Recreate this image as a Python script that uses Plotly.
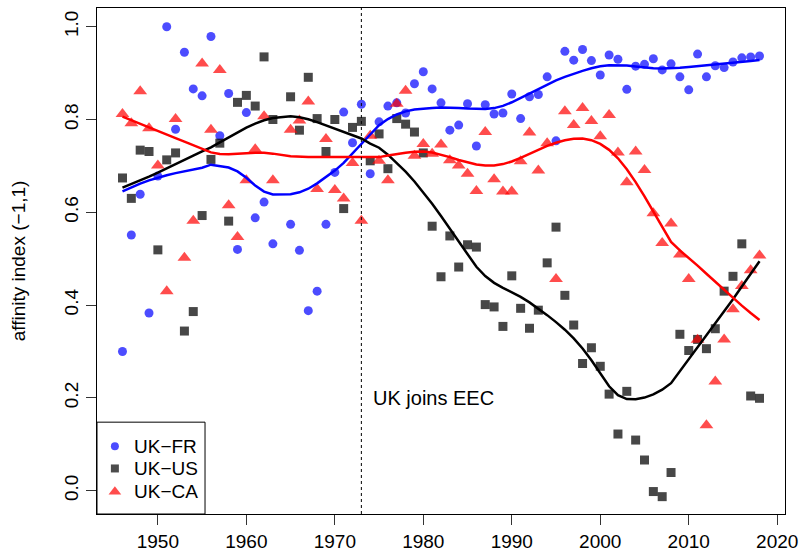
import numpy as np
import plotly.graph_objects as go

# ---- data (no 1964 values) ----
years = [1946, 1947, 1948, 1949, 1950, 1951, 1952, 1953, 1954, 1955, 1956, 1957, 1958, 1959,
         1960, 1961, 1962, 1963, 1965, 1966, 1967, 1968, 1969, 1970, 1971, 1972, 1973, 1974,
         1975, 1976, 1977, 1978, 1979, 1980, 1981, 1982, 1983, 1984, 1985, 1986, 1987, 1988,
         1989, 1990, 1991, 1992, 1993, 1994, 1995, 1996, 1997, 1998, 1999, 2000, 2001, 2002,
         2003, 2004, 2005, 2006, 2007, 2008, 2009, 2010, 2011, 2012, 2013, 2014, 2015, 2016,
         2017, 2018]

uk_fr = [0.300, 0.551, 0.639, 0.383, 0.678, 1.000, 0.779, 0.945, 0.866, 0.851, 0.979, 0.765,
         0.856, 0.520, 0.815, 0.588, 0.622, 0.532, 0.574, 0.518, 0.388, 0.430, 0.574, 0.686,
         0.816, 0.750, 0.833, 0.683, 0.795, 0.829, 0.836, 0.814, 0.877, 0.903, 0.866, 0.836,
         0.777, 0.788, 0.834, 0.743, 0.832, 0.812, 0.814, 0.855, 0.802, 0.849, 0.854, 0.892,
         0.754, 0.947, 0.928, 0.951, 0.927, 0.896, 0.939, 0.930, 0.865, 0.915, 0.919, 0.931,
         0.907, 0.920, 0.892, 0.864, 0.941, 0.892, 0.916, 0.912, 0.924, 0.933, 0.935, 0.937]

uk_us = [0.674, 0.630, 0.734, 0.731, 0.519, 0.713, 0.728, 0.344, 0.386, 0.593, 0.714, 0.749,
         0.581, 0.837, 0.852, 0.829, 0.935, 0.800, 0.849, 0.777, 0.891, 0.802, 0.731, 0.800,
         0.608, 0.783, 0.796, 0.711, 0.769, 0.694, 0.802, 0.790, 0.773, 0.728, 0.570, 0.461,
         0.549, 0.482, 0.530, 0.525, 0.401, 0.396, 0.354, 0.463, 0.393, 0.350, 0.389, 0.491,
         0.568, 0.421, 0.357, 0.274, 0.308, 0.268, 0.208, 0.122, 0.214, 0.109, 0.066, -0.002,
         -0.013, 0.039, 0.337, 0.302, 0.326, 0.306, 0.349, 0.430, 0.462, 0.532, 0.204, 0.199]

uk_ca = [0.812, 0.792, 0.861, 0.781, 0.701, 0.430, 0.801, 0.502, 0.582, 0.921, 0.778, 0.907,
         0.615, 0.547, 0.669, 0.736, 0.807, 0.669, 0.778, 0.798, 0.839, 0.650, 0.758, 0.648,
         0.630, 0.706, 0.582, 0.765, 0.711, 0.669, 0.834, 0.862, 0.722, 0.747, 0.726, 0.746,
         0.712, 0.701, 0.683, 0.646, 0.773, 0.671, 0.645, 0.645, 0.710, 0.772, 0.690, 0.749,
         0.456, 0.818, 0.788, 0.825, 0.797, 0.764, 0.810, 0.729, 0.665, 0.731, 0.691, 0.598,
         0.534, 0.576, 0.509, 0.456, 0.325, 0.141, 0.235, 0.326, 0.391, 0.441, 0.475, 0.507]

series_names = ["UK\u2212FR", "UK\u2212US", "UK\u2212CA"]
x_ticks = [1950, 1960, 1970, 1980, 1990, 2000, 2010, 2020]
y_ticks = [0.0, 0.2, 0.4, 0.6, 0.8, 1.0]
eec_year = 1973
eec_label = "UK joins EEC"
y_title = "affinity index (\u22121,1)"

# ---- robust locally-linear smoother (lowess-style), evaluated at the data years ----
SPAN, DEGREE, ITERS = 0.3, 1, 3


def _fit_at(x, y, x0, q, deg, rw):
    d = np.abs(x - x0)
    h = np.sort(d)[q - 1] * 1.0000001
    w = np.clip(1 - (d / h) ** 3, 0, None) ** 3 * rw
    X = np.vstack([(x - x0) ** k for k in range(deg + 1)]).T
    WX = X * w[:, None]
    return np.linalg.lstsq(WX.T @ X, WX.T @ y, rcond=None)[0][0]


def smooth(x, y, grid, span=SPAN, deg=DEGREE, iters=ITERS):
    x = np.asarray(x, float)
    y = np.asarray(y, float)
    n = len(x)
    q = int(np.floor(n * span))
    rw = np.ones(n)
    for _ in range(iters):
        fitted = np.array([_fit_at(x, y, xi, q, deg, rw) for xi in x])
        res = y - fitted
        s = np.median(np.abs(res))
        rw = np.clip(1 - (res / (6 * s)) ** 2, 0, None) ** 2
    return np.array([_fit_at(x, y, g, q, deg, rw) for g in grid])


grid = np.asarray(years, float)

styles = [
    dict(data=uk_fr, symbol="circle", size=9, color="rgba(0,0,255,0.7)", line="blue", lsize=8),
    dict(data=uk_us, symbol="square", size=9, color="rgba(0,0,0,0.72)", line="black", lsize=8),
    dict(data=uk_ca, symbol="triangle-up", size=12, color="rgba(255,0,0,0.7)", line="red", lsize=11),
]

fig = go.Figure()
for st in styles:
    fig.add_trace(go.Scatter(x=years, y=st["data"], mode="markers", showlegend=False,
                             marker=dict(symbol=st["symbol"], size=st["size"], color=st["color"],
                                         line=dict(width=0))))
for st in styles:
    fig.add_trace(go.Scatter(x=grid, y=smooth(years, st["data"], grid), mode="lines",
                             showlegend=False, line=dict(color=st["line"], width=2.5)))

fig.add_shape(type="line", x0=eec_year, x1=eec_year, y0=0, y1=1, xref="x", yref="paper",
              line=dict(color="black", width=1, dash="dot"))
fig.add_annotation(x=eec_year, y=0.2, text=eec_label, showarrow=False, xanchor="left",
                   yanchor="middle", xshift=10, font=dict(size=20, color="black"))

FS = 19

# ---- legend box (R-style, bottom-left corner of the plot) ----
leg_x1, leg_y1 = 0.157, 0.1815
leg_rows = [0.134, 0.090, 0.044]
leg_mark_x, leg_text_x = 0.026, 0.0515
fig.add_shape(type="rect", xref="paper", yref="paper", x0=0, y0=0, x1=leg_x1, y1=leg_y1,
              line=dict(color="black", width=1), fillcolor="white", layer="below")
fig.add_trace(go.Scatter(x=[leg_mark_x] * 3, y=leg_rows, xaxis="x2", yaxis="y2", mode="markers",
                         showlegend=False, hoverinfo="skip",
                         marker=dict(symbol=[s["symbol"] for s in styles],
                                     size=[s["lsize"] for s in styles],
                                     color=[s["line"] for s in styles], line=dict(width=0))))
for name, yy in zip(series_names, leg_rows):
    fig.add_annotation(xref="paper", yref="paper", x=leg_text_x, y=yy, text=name, showarrow=False,
                       xanchor="left", yanchor="middle", font=dict(size=FS, color="black"))

font = "Liberation Sans, Arial, sans-serif"
fig.update_layout(
    width=805, height=559,
    margin=dict(l=97, r=15, t=7, b=45),
    paper_bgcolor="white", plot_bgcolor="white",
    font=dict(family=font, size=FS, color="black"),
    showlegend=False,
    xaxis=dict(range=[1943.12, 2020.88], tickvals=x_ticks, showgrid=False, zeroline=False,
               showline=True, mirror=True, linecolor="black", linewidth=1,
               ticks="outside", ticklen=10, tickcolor="#333", tickfont=dict(size=FS)),
    yaxis=dict(range=[-0.0504, 1.0404], tickvals=y_ticks, ticktext=[f"{v:.1f}" for v in y_ticks],
               showgrid=False, zeroline=False, showline=True, mirror=True, linecolor="black",
               linewidth=1, ticks="outside", ticklen=10, tickcolor="#333", tickangle=-90,
               tickfont=dict(size=FS),
               title=dict(text=y_title, font=dict(size=FS), standoff=30)),
    xaxis2=dict(range=[0, 1], overlaying="x", visible=False, fixedrange=True),
    yaxis2=dict(range=[0, 1], overlaying="y", visible=False, fixedrange=True),
)

fig.write_html("out.html")
